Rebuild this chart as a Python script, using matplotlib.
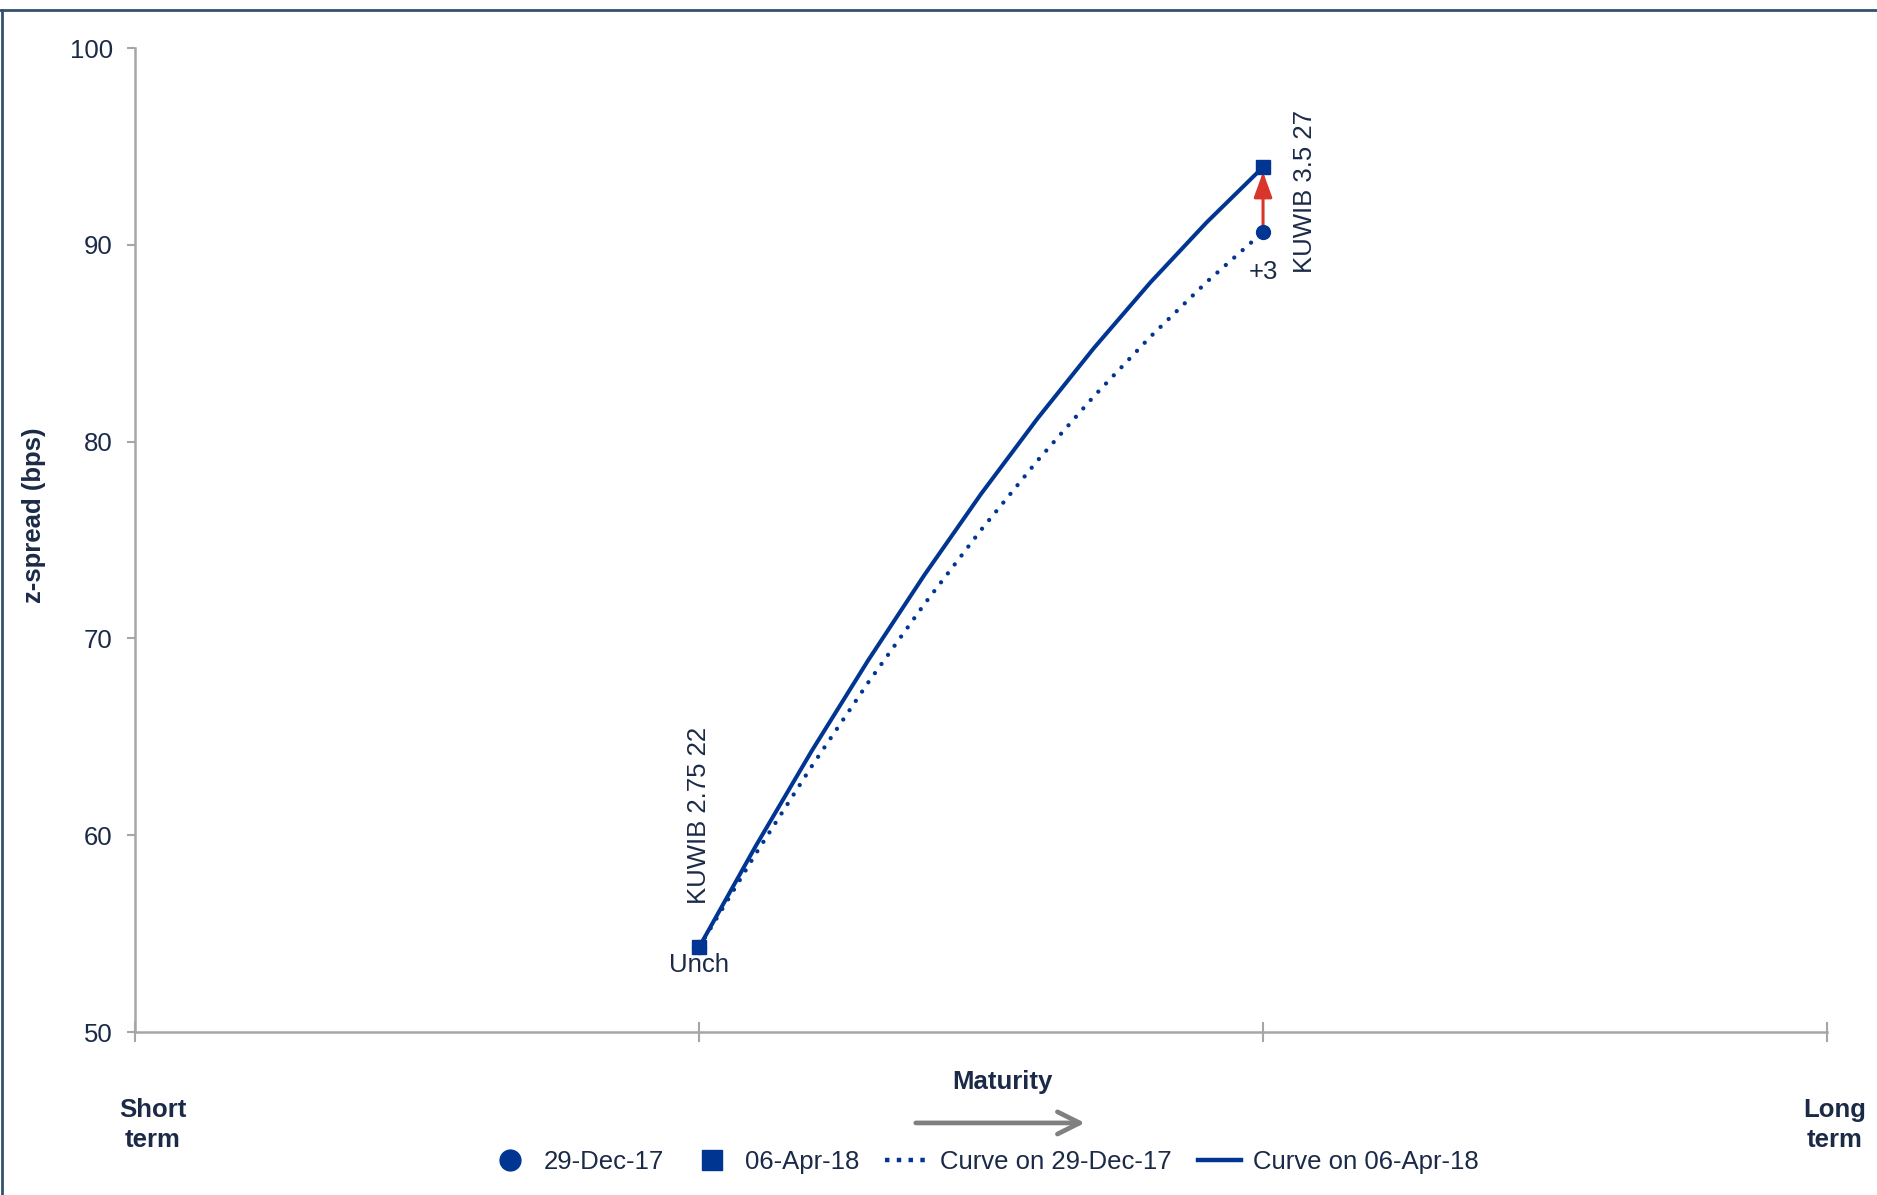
import matplotlib.pyplot as plt
from matplotlib.lines import Line2D
from matplotlib.patches import FancyArrowPatch

plt.rcParams["font.family"] = ["Liberation Sans", "DejaVu Sans"]

# bonds and z-spreads
bonds = ["KUWIB 2.75 22", "KUWIB 3.5 27"]
maturity_pos = [1, 2]
spread_dec = [54.3, 90.65]
spread_apr = [54.3, 93.95]
change_labels = ["Unch", "+3"]

# fitted curves
curve_x = [1.0, 1.1, 1.2, 1.3, 1.4, 1.5, 1.6, 1.7, 1.8, 1.9, 2.0]
curve_dec_y = [54.3, 59.03, 63.51, 67.76, 71.76, 75.51, 79.03, 82.30, 85.32, 88.11, 90.65]
curve_apr_y = [54.3, 59.42, 64.29, 68.89, 73.24, 77.34, 81.17, 84.75, 88.08, 91.14, 93.95]

navy = "#003592"
text_c = "#1b2a47"
grey = "#a6a6a6"

fig = plt.figure(figsize=(18.77, 11.95), dpi=100)
ax = fig.add_axes([0.0719, 0.1364, 0.9015, 0.8234])

ax.plot(curve_x, curve_dec_y, color=navy, lw=3.1,
        linestyle=(0, (0.01, 2.6)), dash_capstyle="round")
ax.plot(curve_x, curve_apr_y, color=navy, lw=2.9, solid_joinstyle="round")

# red change arrow
ax.annotate("", xy=(maturity_pos[1], spread_apr[1] - 0.25),
            xytext=(maturity_pos[1], spread_dec[1]),
            arrowprops=dict(arrowstyle="-|>,head_length=0.55,head_width=0.2",
                            color="#d9352b", lw=2.2,
                            mutation_scale=28, shrinkA=0, shrinkB=0))

ax.plot(maturity_pos, spread_dec, "o", color=navy, ms=10, zorder=5)
ax.plot(maturity_pos, spread_apr, "s", color=navy, ms=10.5, zorder=6)

# labels
ax.text(1, 56.5, bonds[0], rotation=90, ha="center", va="bottom",
        fontsize=18.5, color=text_c)
ax.text(2.075, 88.57, bonds[1], rotation=90, ha="center", va="bottom",
        fontsize=18.5, color=text_c)
ax.text(1, 53.4, change_labels[0], ha="center", va="center",
        fontsize=18.5, color=text_c)
ax.text(2, 88.6, change_labels[1], ha="center", va="center",
        fontsize=18.5, color=text_c)

ax.set_xlim(0, 3)
ax.set_ylim(50, 100)
ax.set_xticks([0, 1, 2, 3])
ax.set_xticklabels([])
ax.set_yticks([50, 60, 70, 80, 90, 100])
ax.tick_params(axis="y", direction="out", length=6, width=1.5, colors=grey,
               labelcolor=text_c, labelsize=18.5, pad=10)
ax.tick_params(axis="x", direction="inout", length=14, width=1.5, colors=grey)
for s in ["top", "right"]:
    ax.spines[s].set_visible(False)
for s in ["left", "bottom"]:
    ax.spines[s].set_color(grey)
    ax.spines[s].set_linewidth(1.8)

fig.text(0.018, 0.569, "z-spread (bps)", rotation=90, ha="center", va="center",
         fontsize=18.5, fontweight="bold", color=text_c)
fig.text(0.0815, 0.0586, "Short\nterm", ha="center", va="center", fontsize=18.5,
         fontweight="bold", color=text_c, linespacing=1.3)
fig.text(0.9776, 0.0586, "Long\nterm", ha="center", va="center", fontsize=18.5,
         fontweight="bold", color=text_c, linespacing=1.3)
fig.text(0.534, 0.0946, "Maturity", ha="center", va="center", fontsize=18.5,
         fontweight="bold", color=text_c)
fig.add_artist(FancyArrowPatch((0.4864, 0.0603), (0.5795, 0.0603),
                               transform=fig.transFigure, arrowstyle="->",
                               mutation_scale=40, color="#808080", lw=3.4))

handles = [
    Line2D([], [], ls="none", marker="o", color=navy, ms=15),
    Line2D([], [], ls="none", marker="s", color=navy, ms=15),
    Line2D([], [], ls=":", color=navy, lw=3.2),
    Line2D([], [], ls="-", color=navy, lw=3.2),
]
labels = ["29-Dec-17", "06-Apr-18", "Curve on 29-Dec-17", "Curve on 06-Apr-18"]
fig.legend(handles, labels, ncol=4, loc="center", bbox_to_anchor=(0.524, 0.0276),
           frameon=False, fontsize=18.5, handlelength=1.7, handletextpad=0.45,
           columnspacing=1.0, labelcolor=text_c)

# frame lines on left and top
fig.add_artist(Line2D([0.0008, 0.0008], [0, 0.9916], transform=fig.transFigure,
                      color="#34506f", lw=2))
fig.add_artist(Line2D([0, 1], [0.9916, 0.9916], transform=fig.transFigure,
                      color="#34506f", lw=2))

fig.savefig("out.png", dpi=100, facecolor="white")
